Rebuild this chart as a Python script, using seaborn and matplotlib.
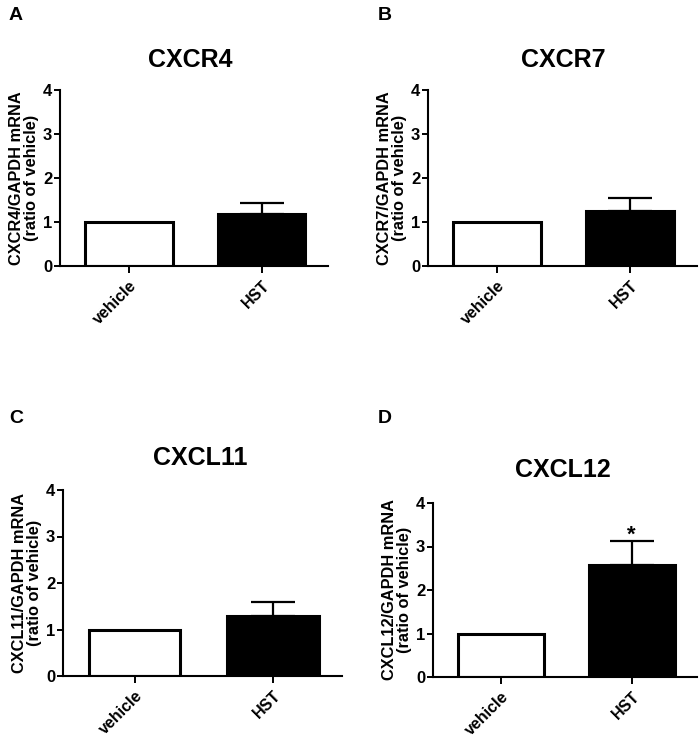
import matplotlib
matplotlib.use("Agg")
import matplotlib.pyplot as plt
import seaborn as sns
import pandas as pd

sns.set_style("ticks")
plt.rcParams['font.family'] = ['Liberation Sans', 'DejaVu Sans']
plt.rcParams['font.weight'] = 'bold'
for k in ['text.color', 'axes.labelcolor', 'xtick.color', 'ytick.color', 'axes.edgecolor']:
    plt.rcParams[k] = 'black'

# data
groups = ['vehicle', 'HST']
genes = ['CXCR4', 'CXCR7', 'CXCL11', 'CXCL12']
panel_letters = ['A', 'B', 'C', 'D']
vehicle_mean = [1.0, 1.0, 1.0, 1.0]
hst_mean = [1.18, 1.24, 1.30, 2.57]
hst_sem = [0.25, 0.30, 0.30, 0.55]
signif = ['', '', '', '*']

W, H = 699, 739

# axes boxes in pixels: left, top, right, bottom
boxes = [(60, 90, 328, 266), (428, 90, 697, 266),
         (63, 490, 342, 676), (433, 503, 697, 677)]
titles_xy = [(190, 60), (563, 60), (200, 458), (563, 470)]
letters_xy = [(9, 7), (378, 7), (9, 410), (378, 410)]

fig = plt.figure(figsize=(W / 100, H / 100), dpi=100)

for i, gene in enumerate(genes):
    l, t, r, b = boxes[i]
    ax = fig.add_axes([l / W, 1 - b / H, (r - l) / W, (b - t) / H])
    df = pd.DataFrame({'group': groups, 'value': [vehicle_mean[i], hst_mean[i]]})
    sns.barplot(data=df, x='group', y='value', hue='group', palette=['white', 'black'],
                edgecolor='black', linewidth=2.2, width=0.66, legend=False, ax=ax)
    ax.errorbar([1], [hst_mean[i]], yerr=[[0], [hst_sem[i]]], fmt='none',
                ecolor='black', elinewidth=1.6, capsize=16, capthick=1.6)
    if signif[i]:
        ax.text(1, hst_mean[i] + hst_sem[i] - 0.1, signif[i], ha='center', va='bottom',
                fontsize=16, fontweight='bold')
    ax.set_ylim(0, 4)
    ax.set_xlim(-0.52, 1.5)
    ax.set_yticks([0, 1, 2, 3, 4])
    ax.set_xlabel('')
    ax.set_ylabel(gene + '/GAPDH mRNA\n(ratio of vehicle)', fontsize=11.8, fontweight='bold',
                  labelpad=3, linespacing=1.0)
    ax.tick_params(axis='both', labelsize=12, width=1.4, length=4, direction='out')
    ax.tick_params(axis='y', pad=1.5)
    ax.tick_params(axis='x', length=5, labelsize=11.5)
    for lab in ax.get_xticklabels():
        lab.set_rotation(45)
        lab.set_ha('right')
        lab.set_rotation_mode('anchor')
        lab.set_fontweight('bold')
    for lab in ax.get_yticklabels():
        lab.set_fontweight('bold')
    for s in ['top', 'right']:
        ax.spines[s].set_visible(False)
    for s in ['left', 'bottom']:
        ax.spines[s].set_linewidth(1.5)

    tx, ty = titles_xy[i]
    fig.text(tx / W, 1 - ty / H, gene, ha='center', va='center', fontsize=18, fontweight='bold')
    lx, ly = letters_xy[i]
    fig.text(lx / W, 1 - ly / H, panel_letters[i], ha='left', va='top', fontsize=14, fontweight='bold')

fig.savefig('out.png', dpi=100, facecolor='white')
